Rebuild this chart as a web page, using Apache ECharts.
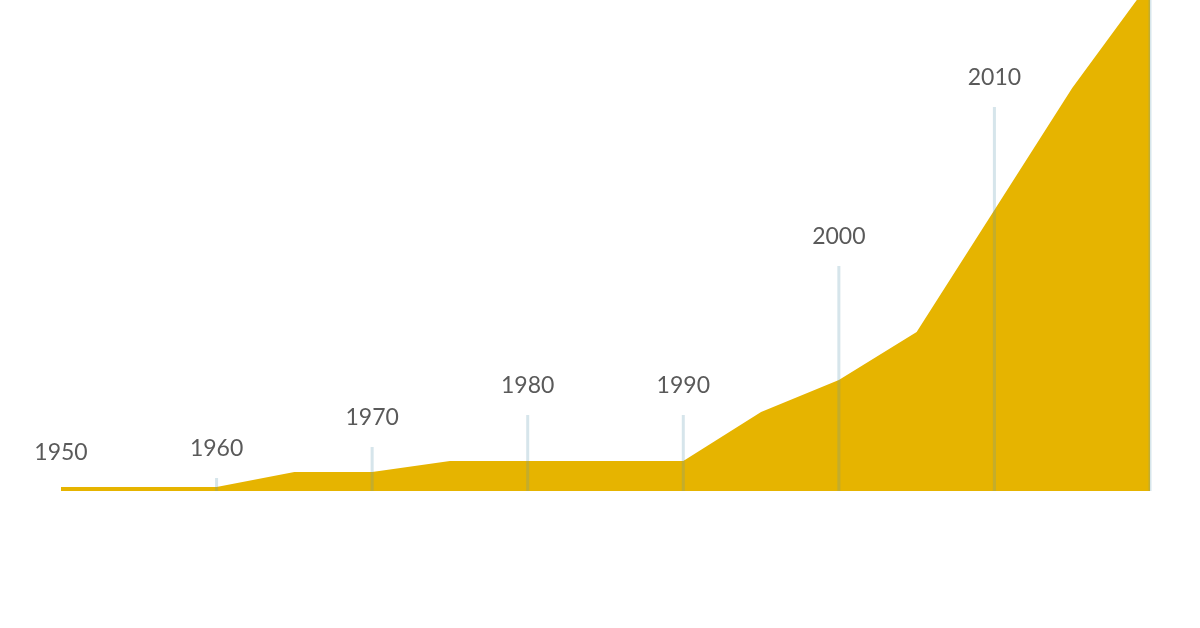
<!DOCTYPE html>
<html>
<head>
<meta charset="utf-8">
<script src="https://cdn.jsdelivr.net/npm/echarts@6/dist/echarts.min.js"></script>
<style>html,body{margin:0;padding:0;background:#fff;}#c{width:1200px;height:628px;}</style>
</head>
<body>
<div id="c"></div>
<script>
var years = [1950,1955,1960,1965,1970,1975,1980,1985,1990,1995,2000,2005,2010,2015,2020];
var values = [4,4,4,19,19,30,30,30,30,79,111,159,281,403,509];
var markerYears = [1950,1960,1970,1980,1990,2000,2010,2020];
var markerLabelHeights = [9,13,44,76,76,225,384,600];
var markerLineHeights = [0,13,44,76,76,225,384,520];
var markerLabels = ['1950','1960','1970','1980','1990','2000','2010',''];

var chart = echarts.init(document.getElementById('c'));
chart.setOption({
  animation: false,
  backgroundColor: '#fff',
  grid: {left: 61, right: 50, top: 0, bottom: 137},
  xAxis: {type: 'value', min: 1950, max: 2020, show: false},
  yAxis: {type: 'value', min: 0, max: 491, show: false},
  series: [
    {
      type: 'line',
      data: years.map(function(y, i){ return [y, values[i]]; }),
      symbol: 'none',
      lineStyle: {width: 0},
      areaStyle: {color: '#e6b400', opacity: 1},
      clip: true,
      z: 1
    },
    {
      type: 'custom',
      z: 5,
      clip: false,
      data: markerYears.map(function(y, i){ return [y, markerLineHeights[i], markerLabelHeights[i]]; }),
      renderItem: function(params, api){
        var top = api.coord([api.value(0), api.value(1)]);
        var lab = api.coord([api.value(0), api.value(2)]);
        var bot = api.coord([api.value(0), 0]);
        var children = [];
        if (api.value(1) > 0) {
          children.push({type: 'line', shape: {x1: top[0], y1: Math.max(top[1], 0), x2: bot[0], y2: bot[1]},
             style: {stroke: 'rgba(90,150,175,0.25)', lineWidth: 3}});
        }
        var t = markerLabels[params.dataIndex];
        if (t) {
          children.push({type: 'text', style: {x: lab[0], y: lab[1] - 29, text: t,
             textAlign: 'center', textVerticalAlign: 'middle', fill: '#5a5a5a',
             fontFamily: 'Lato', fontSize: 23, fontWeight: 'normal'}});
        }
        return {type: 'group', children: children};
      }
    }
  ]
});
</script>
</body>
</html>
